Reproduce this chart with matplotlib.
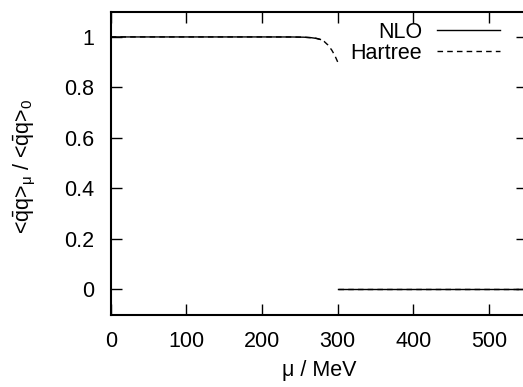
"""Chiral condensate ratio vs chemical potential (NLO vs Hartree)."""

import matplotlib
matplotlib.use("Agg")
import matplotlib.pyplot as plt

# curve part (mu in MeV, ratio <qq>_mu / <qq>_0)
mu_nlo = [0, 100, 200, 240, 255, 265, 272, 277]
ratio_nlo = [1.0, 1.0, 1.0, 0.9998, 0.999, 0.997, 0.994, 0.99]

mu_hartree = [0, 100, 200, 240, 255, 265, 272, 277, 282, 287, 292, 296, 300]
ratio_hartree = [1.0, 1.0, 1.0, 0.9998, 0.999, 0.997, 0.994, 0.99, 0.982,
                 0.968, 0.948, 0.927, 0.90]

# chirally restored phase
mu_restored = [300, 550]
ratio_restored = [0.0, 0.0]

x_ticks = [0, 100, 200, 300, 400, 500]
y_ticks = [0, 0.2, 0.4, 0.6, 0.8, 1]
y_tick_labels = ["0", "0.2", "0.4", "0.6", "0.8", "1"]


def main() -> None:
    plt.rcParams.update(
        {
            "font.family": ["Liberation Sans", "DejaVu Sans"],
            "font.size": 15.5,
            "mathtext.fontset": "custom",
            "mathtext.rm": "Liberation Sans",
            "mathtext.it": "Liberation Sans:italic",
        }
    )
    fig = plt.figure(figsize=(5.23, 3.87), dpi=100)
    ax = fig.add_axes([0.2117, 0.1868, 0.796, 0.783])

    ax.plot(mu_nlo, ratio_nlo, color="black", linewidth=1.0, label="NLO")
    ax.plot(mu_hartree, ratio_hartree, color="black", linewidth=1.0,
            dashes=(4, 3), label="Hartree")
    ax.plot(mu_restored, ratio_restored, color="black", linewidth=1.0)
    ax.plot(mu_restored, ratio_restored, color="black", linewidth=1.0,
            dashes=(4, 3))

    ax.set_xlim(0, 550)
    ax.set_ylim(-0.1, 1.1)
    ax.set_xticks(x_ticks)
    ax.set_yticks(y_ticks)
    ax.set_yticklabels(y_tick_labels)
    ax.tick_params(direction="in", length=8, width=1.0, top=True, right=True,
                   pad=12)
    for spine in ax.spines.values():
        spine.set_linewidth(1.5)

    ax.set_xlabel("\u03bc / MeV")
    ax.set_ylabel("<$\\bar{\\mathrm{q}}$q>$_{\\mathrm{\u03bc}}$ / "
                  "<$\\bar{\\mathrm{q}}$q>$_{0}$")
    ax.xaxis.set_label_coords(0.5, -0.15)
    ax.yaxis.set_label_coords(-0.175, 0.49)

    leg = ax.legend(loc="upper right", bbox_to_anchor=(0.965, 1.01),
                    frameon=False, markerfirst=False, handlelength=2.9,
                    handletextpad=0.7, labelspacing=0.02, borderaxespad=0.2)
    for text in leg.get_texts():
        text.set_ha("right")
    leg._legend_box.align = "right"

    fig.savefig("out.png", dpi=100)
    plt.close(fig)


if __name__ == "__main__":
    main()
